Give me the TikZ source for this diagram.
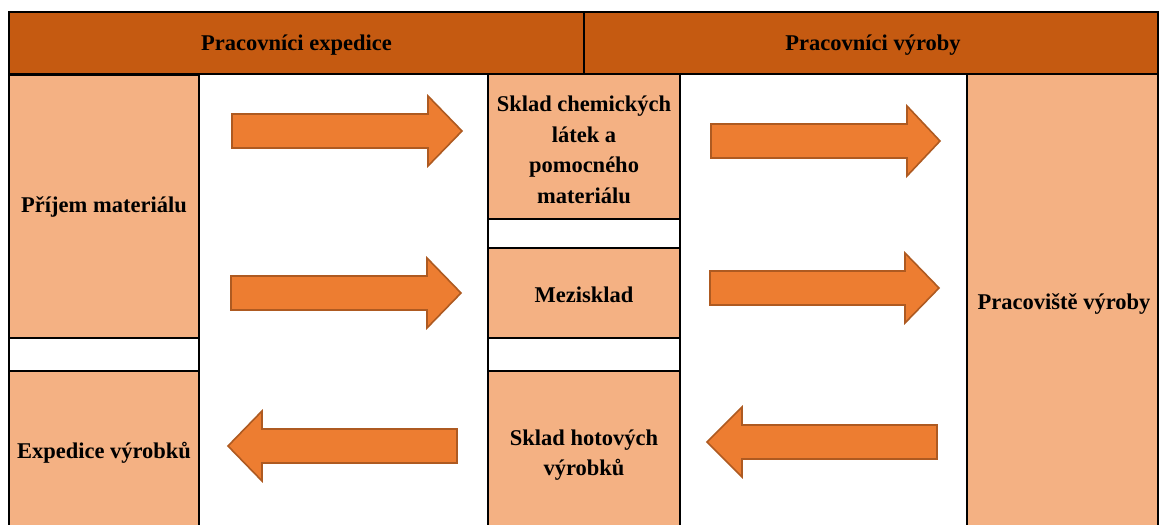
\documentclass[tikz,border=0pt]{standalone}
\usepackage{fontspec}
\setmainfont{Liberation Serif}
\definecolor{hdrc}{HTML}{C55A11}
\definecolor{cellc}{HTML}{F4B183}
\definecolor{arrc}{HTML}{ED7D31}
\definecolor{arrd}{HTML}{AE5A21}
\newcommand\blockarr[4]{%
  \draw[blockarrow] (#1,#4-17) -- (#2,#4-17) -- (#2,#4-35) -- (#3,#4) -- (#2,#4+35) -- (#2,#4+17) -- (#1,#4+17) -- cycle;}
\begin{document}
\begin{tikzpicture}[x=1pt,y=-1pt,
  box/.style={draw=black,line width=2.6pt,inner sep=0pt,outer sep=0pt,align=center,
    font=\bfseries\fontsize{22.5}{30.5}\selectfont},
  hdr/.style={box,fill=hdrc},
  cell/.style={box,fill=cellc},
  gap/.style={box,fill=white},
  lbl/.style={inner sep=0pt,align=center,font=\bfseries\fontsize{22.5}{30.5}\selectfont},
  blockarrow/.style={fill=arrc,draw=arrd,line width=1.6pt,line join=miter}]
\clip (0,0) rectangle (1160,525);
\fill[white] (0,0) rectangle (1160,525);
% header
\node[hdr,minimum width=575,minimum height=62] (hl) at (296.5,43) {};
\node[hdr,minimum width=574,minimum height=62] (hr) at (871,43) {};
\node[lbl] (hlt) at (296.5,45) {Pracovníci expedice};
\node[lbl] (hrt) at (873,45) {Pracovníci výroby};
% column 1
\node[cell,minimum width=190,minimum height=264] (pm) at (104,207) {Příjem materiálu};
\node[gap,minimum width=190,minimum height=33] (g1) at (104,354.5) {};
\node[cell,minimum width=190,minimum height=162] (ev) at (104,452) {};
\node[lbl] (evt) at (104,453) {Expedice výrobků};
% column 2
\node[cell,minimum width=192,minimum height=145] (sc) at (584,146.5) {};
\node[lbl] (sct) at (584,150) {Sklad chemických\\látek a\\pomocného\\materiálu};
\node[gap,minimum width=192,minimum height=29] (g2) at (584,233.5) {};
\node[cell,minimum width=192,minimum height=90] (mz) at (584,293) {};
\node[lbl] (mzt) at (584,295) {Mezisklad};
\node[gap,minimum width=192,minimum height=33] (g3) at (584,354.5) {};
\node[cell,minimum width=192,minimum height=162] (sh) at (584,452) {};
\node[lbl] (sht) at (584,455) {Sklad hotových\\výrobků};
% column 4
\node[cell,minimum width=191,minimum height=459] (pv) at (1062.5,303.5) {};
\node[lbl] (pvt) at (1064,304) {Pracoviště výroby};
% arrows
\blockarr{232}{428}{462}{131}
\blockarr{231}{427}{461}{293}
\blockarr{457}{262}{228}{446}
\blockarr{711}{907}{940}{141}
\blockarr{710}{905}{939}{288}
\blockarr{937}{742}{707}{442}
\end{tikzpicture}
\end{document}
